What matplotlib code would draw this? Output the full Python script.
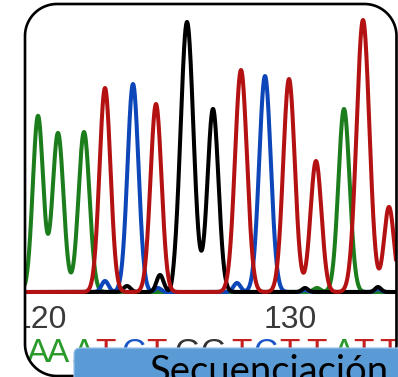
import numpy as np
import matplotlib
matplotlib.use("Agg")
import matplotlib.pyplot as plt
from matplotlib.path import Path
from matplotlib.patches import PathPatch, Polygon, FancyBboxPatch

# ---------------- data ----------------
# base calls and their positions (base number units)
calls = ["A", "A", "A", "T", "C", "T", "G", "G", "T", "C", "T", "T", "A", "T", "T"]
call_pos = [119.92, 120.72, 121.76, 122.60, 123.72, 124.64, 125.88, 126.92,
            128.04, 129.00, 129.96, 131.04, 132.16, 132.92, 133.96]

tick_pos = [120, 130]
tick_labels = ["120", "130"]

# peaks per channel: position, height (signal units), width (base units)
a_pos = [119.92, 120.72, 121.76, 132.16, 131.08]
a_hgt = [176, 159, 160, 183, 4]
a_wid = [0.208, 0.22, 0.22, 0.224, 0.14]

c_pos = [123.72, 129.00, 122.60, 124.72, 127.88, 130.60, 133.52]
c_hgt = [208, 216, 11, 4, 9, 2, 3]
c_wid = [0.22, 0.232, 0.14, 0.12, 0.14, 0.12, 0.12]

g_pos = [125.88, 126.92, 123.48, 124.80, 125.24, 130.60, 133.52]
g_hgt = [270, 183, 6, 17, -5, 4, 5]
g_wid = [0.256, 0.22, 0.14, 0.14, 0.10, 0.12, 0.12]

t_pos = [122.60, 124.64, 128.04, 129.96, 131.04, 132.92, 133.96]
t_hgt = [204, 188, 222, 213, 131, 272, 85]
t_wid = [0.22, 0.22, 0.24, 0.232, 0.22, 0.256, 0.20]

label_text = "Secuenciación"

# ---------------- styling ----------------
col = {"A": "#1c7d1c", "C": "#0c46b8", "G": "#000000", "T": "#b41212"}
call_col = {"A": "#2a9a2a", "C": "#1a55c8", "G": "#333333", "T": "#c42020"}

W, H = 398, 377
fig = plt.figure(figsize=(W / 100, H / 100), dpi=100)
fig.patch.set_facecolor("white")

# trace axes: pixel x 25..396, pixel y 4..300 ; baseline at pixel 292
ax = fig.add_axes([25 / W, (H - 300) / H, 371 / W, 296 / H])
x0 = 120 + (25 - 40) / 25
x1 = 120 + (396 - 40) / 25
ax.set_xlim(x0, x1)
ax.set_ylim(-8, 288)
for s in ax.spines.values():
    s.set_visible(False)
ax.set_yticks([])
ax.set_facecolor("none")

xs = np.linspace(x0, x1, 4000)


def trace(pos, hgt, wid):
    y = np.zeros_like(xs)
    for p, h, w in zip(pos, hgt, wid):
        y += h * np.exp(-0.5 * ((xs - p) / w) ** 2)
    return y


for key, (p, h, w) in [("A", (a_pos, a_hgt, a_wid)),
                       ("C", (c_pos, c_hgt, c_wid)),
                       ("G", (g_pos, g_hgt, g_wid)),
                       ("T", (t_pos, t_hgt, t_wid))]:
    ax.plot(xs, trace(p, h, w), color=col[key], lw=2.9,
            solid_joinstyle="round", solid_capstyle="round")

narrow = ["Liberation Sans Narrow", "Liberation Sans", "DejaVu Sans"]
ax.set_xticks(tick_pos)
ax.set_xticklabels(tick_labels, family=narrow, fontsize=23, color="#3a3a3a")
ax.tick_params(axis="x", length=0, pad=3.5)

# base calls under the trace (baseline at pixel 362)
for b, p in zip(calls, call_pos):
    ax.text(p, (300 - 362) / 296, b, transform=ax.get_xaxis_transform(),
            ha="center", va="baseline", fontsize=24, family=narrow,
            color=call_col[b])

# ---------------- decoration axes in pixel coordinates ----------------
deco = fig.add_axes([0, 0, 1, 1], zorder=5)
deco.set_xlim(0, W)
deco.set_ylim(H, 0)
deco.axis("off")
deco.patch.set_visible(False)


def rounded(xa, ya, xb, yb, r, n=24):
    pts = []
    corners = [(xb - r, ya + r, -90, 0), (xb - r, yb - r, 0, 90),
               (xa + r, yb - r, 90, 180), (xa + r, ya + r, 180, 270)]
    for cx, cy, t0, t1 in corners:
        t = np.radians(np.linspace(t0, t1, n))
        pts.extend(zip(cx + r * np.cos(t), cy + r * np.sin(t)))
    return np.array(pts)


inner = rounded(25, 4, 396.5, 376, 32)
outer = np.array([(-5, -5), (-5, H + 5), (W + 5, H + 5), (W + 5, -5)])
mask_path = Path.make_compound_path(Path(outer, closed=False),
                                    Path(inner, closed=False))
deco.add_patch(PathPatch(mask_path, facecolor="white", edgecolor="none", zorder=1))
deco.add_patch(Polygon(inner, closed=True, fill=False, edgecolor="black",
                       lw=1.9, zorder=2))

box = FancyBboxPatch((74, 348), 340, 45, boxstyle="round,pad=0,rounding_size=6",
                     facecolor="#5b9bd5", edgecolor="#9cc2ea", lw=0.9, zorder=3)
deco.add_patch(box)
deco.text(150, 383, label_text, ha="left", va="baseline", fontsize=27.5,
          family=["Lato", "DejaVu Sans"], color="black", zorder=4)

fig.savefig("out.png", dpi=100)
